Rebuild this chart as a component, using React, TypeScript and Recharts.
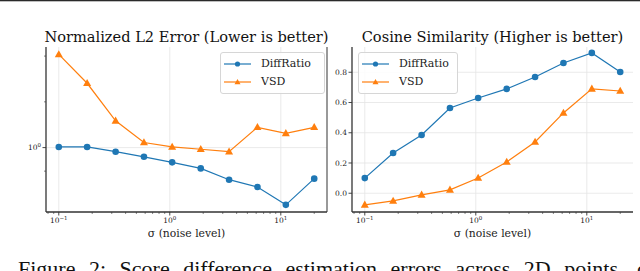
import { LineChart, Line, XAxis, YAxis, ReferenceLine, Legend } from "recharts";

// noise levels (log spaced)
const sigma = [0.1, 0.18, 0.325, 0.585, 1.05, 1.9, 3.42, 6.16, 11.1, 20];

// left panel: normalized L2 error (log y)
const l2DiffRatio = [1.01, 1.01, 0.94, 0.87, 0.8, 0.73, 0.615, 0.55, 0.42, 0.625];
const l2Vsd = [4.1, 2.65, 1.5, 1.08, 1.01, 0.975, 0.94, 1.36, 1.24, 1.36];

// right panel: cosine similarity
const cosDiffRatio = [0.1, 0.266, 0.385, 0.564, 0.63, 0.69, 0.769, 0.861, 0.928, 0.802];
const cosVsd = [-0.077, -0.051, -0.011, 0.022, 0.101, 0.207, 0.339, 0.531, 0.69, 0.676];

const seriesNames = ["DiffRatio", "VSD"];
const titles = ["Normalized L2 Error (Lower is better)", "Cosine Similarity (Higher is better)"];
const xLabel = "σ (noise level)";
const caption = "Figure 2: Score difference estimation errors across 2D points, comparing";

const xMajor = [0.1, 1, 10];
const xMinor = [0.08, 0.09, 0.2, 0.3, 0.4, 0.5, 0.6, 0.7, 0.8, 0.9, 2, 3, 4, 5, 6, 7, 8, 9, 20];
const l2Major = [1];
const l2Minor = [0.7, 2, 4];
const cosTicks = [0, 0.2, 0.4, 0.6, 0.8];

const X_DOMAIN: [number, number] = [0.0767, 26.07];
const L2_DOMAIN: [number, number] = [0.377, 4.59];
const COS_DOMAIN: [number, number] = [-0.124, 0.967];

const BLUE = "#1f77b4";
const ORANGE = "#ff7f0e";
const AXIS = "#333";
const GRID = "#e4e4e4";
const SERIF = "'DejaVu Serif', serif";

const l2Data = sigma.map((s, i) => ({ sigma: s, diff: l2DiffRatio[i], vsd: l2Vsd[i] }));
const cosData = sigma.map((s, i) => ({ sigma: s, diff: cosDiffRatio[i], vsd: cosVsd[i] }));

function Pow10({ exp, ...rest }: any) {
  return (
    <text fontFamily={SERIF} fill="#222" {...rest}>
      <tspan fontSize={7.5}>10</tspan>
      <tspan fontSize={5.5} dy={-3}>
        {exp < 0 ? `\u2212${-exp}` : String(exp)}
      </tspan>
    </text>
  );
}

function LogXTick(props: any) {
  const { x, y, payload } = props;
  const v = payload.value;
  const major = xMajor.includes(v);
  return (
    <g>
      <line x1={x} x2={x} y1={y} y2={y + (major ? 3.5 : 2)} stroke={AXIS} strokeWidth={major ? 0.9 : 0.6} />
      {major ? <Pow10 x={x} y={y + 11} textAnchor="middle" exp={Math.round(Math.log10(v))} /> : null}
    </g>
  );
}

function LogYTick(props: any) {
  const { x, y, payload } = props;
  const v = payload.value;
  const major = l2Major.includes(v);
  return (
    <g>
      <line x1={x} x2={x - (major ? 3.5 : 2)} y1={y} y2={y} stroke={AXIS} strokeWidth={major ? 0.9 : 0.6} />
      {major ? <Pow10 x={x - 5} y={y + 2.7} textAnchor="end" exp={Math.round(Math.log10(v))} /> : null}
    </g>
  );
}

function LinYTick(props: any) {
  const { x, y, payload } = props;
  return (
    <g>
      <line x1={x} x2={x - 3.5} y1={y} y2={y} stroke={AXIS} strokeWidth={0.9} />
      <text x={x - 5} y={y + 2.7} textAnchor="end" fontFamily={SERIF} fontSize={7.5} fill="#222">
        {Number(payload.value).toFixed(1)}
      </text>
    </g>
  );
}

function Triangle(props: any) {
  const { cx, cy } = props;
  if (cx == null || cy == null) return <g />;
  return <polygon points={`${cx},${cy - 4.3} ${cx - 4},${cy + 2.8} ${cx + 4},${cy + 2.8}`} fill={ORANGE} />;
}

function SeriesLegend() {
  return (
    <div
      style={{
        boxSizing: "border-box",
        border: "1px solid #d6d6d6",
        borderRadius: 3,
        background: "rgba(255,255,255,0.85)",
        padding: "2px 0 2px 3px",
        fontFamily: SERIF,
        fontSize: 11,
        color: "#222",
        lineHeight: "18px",
      }}
    >
      {seriesNames.map((name, i) => (
        <div key={name} style={{ display: "flex", alignItems: "center", height: 18 }}>
          <svg width={28} height={10} style={{ display: "block" }}>
            <line x1={0} x2={27} y1={5} y2={5} stroke={i === 0 ? BLUE : ORANGE} strokeWidth={1.2} />
            {i === 0 ? (
              <circle cx={13.5} cy={5} r={2.6} fill={BLUE} />
            ) : (
              <polygon points="13.5,2 10.5,7.2 16.5,7.2" fill={ORANGE} />
            )}
          </svg>
          <span style={{ marginLeft: 9 }}>{name}</span>
        </div>
      ))}
    </div>
  );
}

function xAxisProps() {
  return {
    dataKey: "sigma",
    type: "number" as const,
    scale: "log" as const,
    domain: X_DOMAIN,
    allowDataOverflow: true,
    ticks: [...xMajor, ...xMinor],
    interval: 0 as const,
    tickSize: 0,
    tickMargin: 0,
    tick: (p: any) => <LogXTick {...p} />,
    axisLine: { stroke: AXIS, strokeWidth: 1.3 },
    height: 28,
    label: {
      value: xLabel,
      position: "insideBottom" as const,
      offset: 3,
      style: { fontFamily: SERIF, fontSize: 10.8, fill: "#222" },
    },
  };
}

function seriesLines() {
  return [
    <Line
      key="diff"
      type="linear"
      dataKey="diff"
      name={seriesNames[0]}
      stroke={BLUE}
      strokeWidth={1.2}
      dot={{ r: 3.3, fill: BLUE, stroke: BLUE, strokeWidth: 0 }}
      activeDot={false}
      isAnimationActive={false}
    />,
    <Line
      key="vsd"
      type="linear"
      dataKey="vsd"
      name={seriesNames[1]}
      stroke={ORANGE}
      strokeWidth={1.2}
      dot={(p: any) => <Triangle key={`t-${p.index}`} {...p} />}
      activeDot={false}
      isAnimationActive={false}
    />,
  ];
}

function L2Chart() {
  return (
    <LineChart width={330} height={240} data={l2Data} margin={{ top: 47, right: 3, bottom: 0, left: 0 }}>
      <XAxis {...xAxisProps()} />
      <YAxis
        type="number"
        scale="log"
        domain={L2_DOMAIN}
        allowDataOverflow
        ticks={[...l2Minor, ...l2Major]}
        interval={0}
        tickSize={0}
        tickMargin={0}
        tick={(p: any) => <LogYTick {...p} />}
        axisLine={{ stroke: AXIS, strokeWidth: 1.3 }}
        width={46}
      />
      {xMajor.map((v) => (
        <ReferenceLine key={`gx${v}`} x={v} stroke={GRID} strokeWidth={0.8} />
      ))}
      {l2Major.map((v) => (
        <ReferenceLine key={`gy${v}`} y={v} stroke={GRID} strokeWidth={0.8} />
      ))}
      <ReferenceLine x={X_DOMAIN[1]} stroke="#555" strokeWidth={1.2} />
      {seriesLines()}
      <Legend
        layout="vertical"
        align="center"
        verticalAlign="middle"
        wrapperStyle={{ left: 220, top: 52, width: 105, height: 40 }}
        content={() => <SeriesLegend />}
      />
    </LineChart>
  );
}

function CosChart() {
  return (
    <LineChart width={320} height={240} data={cosData} margin={{ top: 47, right: 7, bottom: 0, left: 0 }}>
      <XAxis {...xAxisProps()} />
      <YAxis
        type="number"
        domain={COS_DOMAIN}
        allowDataOverflow
        ticks={cosTicks}
        interval={0}
        tickSize={0}
        tickMargin={0}
        tick={(p: any) => <LinYTick {...p} />}
        axisLine={{ stroke: AXIS, strokeWidth: 1.3 }}
        width={32}
      />
      {xMajor.map((v) => (
        <ReferenceLine key={`gx${v}`} x={v} stroke={GRID} strokeWidth={0.8} />
      ))}
      {cosTicks.map((v) => (
        <ReferenceLine key={`gy${v}`} y={v} stroke={GRID} strokeWidth={0.8} />
      ))}
      {seriesLines()}
      <Legend
        layout="vertical"
        align="center"
        verticalAlign="middle"
        wrapperStyle={{ left: 38, top: 52, width: 100, height: 41 }}
        content={() => <SeriesLegend />}
      />
    </LineChart>
  );
}

export default function App() {
  return (
    <div
      style={{
        position: "absolute",
        left: 0,
        top: 0,
        width: 640,
        height: 271,
        overflow: "hidden",
        background: "#fff",
      }}
    >
      <div style={{ position: "absolute", left: 0, top: 0 }}>
        <L2Chart />
      </div>
      <div style={{ position: "absolute", left: 320, top: 0 }}>
        <CosChart />
      </div>
      <svg width={640} height={271} style={{ position: "absolute", left: 0, top: 0, pointerEvents: "none" }}>
        <rect x={0} y={0} width={640} height={1.3} fill="#2a2a2a" />
        <text x={186.5} y={42} textAnchor="middle" fontFamily={SERIF} fontSize={14.6} fill="#111">
          {titles[0]}
        </text>
        <text x={492.5} y={42} textAnchor="middle" fontFamily={SERIF} fontSize={14.6} fill="#111">
          {titles[1]}
        </text>
        <text x={18} y={276} fontFamily="'Liberation Serif', serif" fontSize={22} wordSpacing={8} fill="#111">
          {caption}
        </text>
      </svg>
    </div>
  );
}
